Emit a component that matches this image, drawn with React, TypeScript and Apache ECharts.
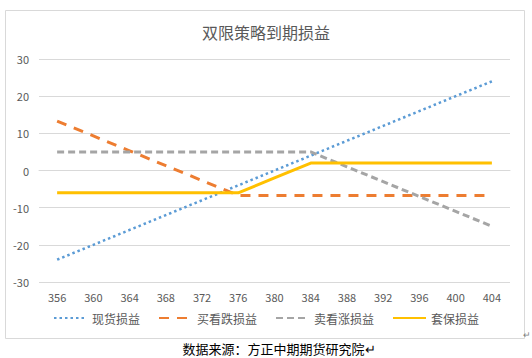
import React, { useEffect, useRef } from "react";
import * as echarts from "echarts";

const categories = ["356", "360", "364", "368", "372", "376", "380", "384", "388", "392", "396", "400", "404"];
const spotPnl = [-24, -20, -16, -12, -8, -4, 0, 4, 8, 12, 16, 20, 24];
const longPutPnl = [13.3, 9.3, 5.3, 1.3, -2.7, -6.7, -6.7, -6.7, -6.7, -6.7, -6.7, -6.7, -6.7];
const shortCallPnl = [5, 5, 5, 5, 5, 5, 5, 5, 1, -3, -7, -11, -15];
const hedgePnl = [-6, -6, -6, -6, -6, -6, -2, 2, 2, 2, 2, 2, 2];
const seriesNames = ["现货损益", "买看跌损益", "卖看涨损益", "套保损益"];
const yTicks = { min: -30, max: 30, interval: 10 };

const FONT = "'Noto Sans CJK SC', 'Noto Sans', sans-serif";

export default function App() {
  const ref = useRef<HTMLDivElement>(null);
  useEffect(() => {
    if (!ref.current) return;
    const chart = echarts.init(ref.current, null, { renderer: "svg" });
    chart.setOption({
      animation: false,
      backgroundColor: "#ffffff",
      title: {
        text: "双限策略到期损益",
        left: "center",
        top: 19,
        textStyle: { fontFamily: FONT, fontSize: 16, fontWeight: "normal", color: "#595959" },
      },
      grid: { left: 39, right: 22, top: 59, bottom: 76 },
      legend: {
        bottom: 29,
        left: "center",
        itemWidth: 33,
        itemHeight: 10,
        itemGap: 18,
        itemStyle: { opacity: 0 },
        textStyle: { fontFamily: FONT, fontSize: 12, color: "#595959" },
        data: seriesNames,
      },
      xAxis: {
        type: "category",
        data: categories,
        boundaryGap: true,
        axisLine: { show: true, lineStyle: { color: "#D9D9D9" } },
        axisTick: { show: false },
        axisLabel: { fontFamily: FONT, fontSize: 11, color: "#595959", margin: 9 },
      },
      yAxis: {
        type: "value",
        min: yTicks.min,
        max: yTicks.max,
        interval: yTicks.interval,
        axisLine: { show: false },
        axisTick: { show: false },
        axisLabel: { fontFamily: FONT, fontSize: 11, color: "#595959", margin: 10 },
        splitLine: { lineStyle: { color: "#D9D9D9", width: 1 } },
      },
      series: [
        {
          name: seriesNames[0],
          type: "line",
          data: spotPnl,
          symbol: "none",
          itemStyle: { color: "#5B9BD5" },
          lineStyle: { color: "#5B9BD5", width: 2.5, type: [2.5, 3], cap: "butt" },
        },
        {
          name: seriesNames[1],
          type: "line",
          data: longPutPnl,
          symbol: "none",
          itemStyle: { color: "#ED7D31" },
          lineStyle: { color: "#ED7D31", width: 3, type: [10, 8] },
        },
        {
          name: seriesNames[2],
          type: "line",
          data: shortCallPnl,
          symbol: "none",
          itemStyle: { color: "#A5A5A5" },
          lineStyle: { color: "#A5A5A5", width: 3, type: [7, 4] },
        },
        {
          name: seriesNames[3],
          type: "line",
          data: hedgePnl,
          symbol: "none",
          itemStyle: { color: "#FFC000" },
          lineStyle: { color: "#FFC000", width: 3, type: "solid" },
        },
      ],
      graphic: [
        {
          type: "rect",
          shape: { x: 5.5, y: 10.5, width: 519, height: 328 },
          style: { fill: "none", stroke: "#D9D9D9", lineWidth: 1 },
          silent: true,
        },
        {
          type: "text",
          x: 523,
          y: 330,
          style: { text: "↵", fontSize: 9, fill: "#7f7f7f", fontFamily: FONT },
        },
        {
          type: "text",
          x: 279,
          y: 348,
          style: {
            text: "数据来源：方正中期期货研究院↵",
            fontSize: 13,
            fill: "#000000",
            fontFamily: FONT,
            align: "center",
            verticalAlign: "middle",
          },
        },
      ],
    });
    return () => chart.dispose();
  }, []);
  return (
    <div
      ref={ref}
      style={{ position: "fixed", left: 0, top: 0, width: 532, height: 358 }}
    />
  );
}
